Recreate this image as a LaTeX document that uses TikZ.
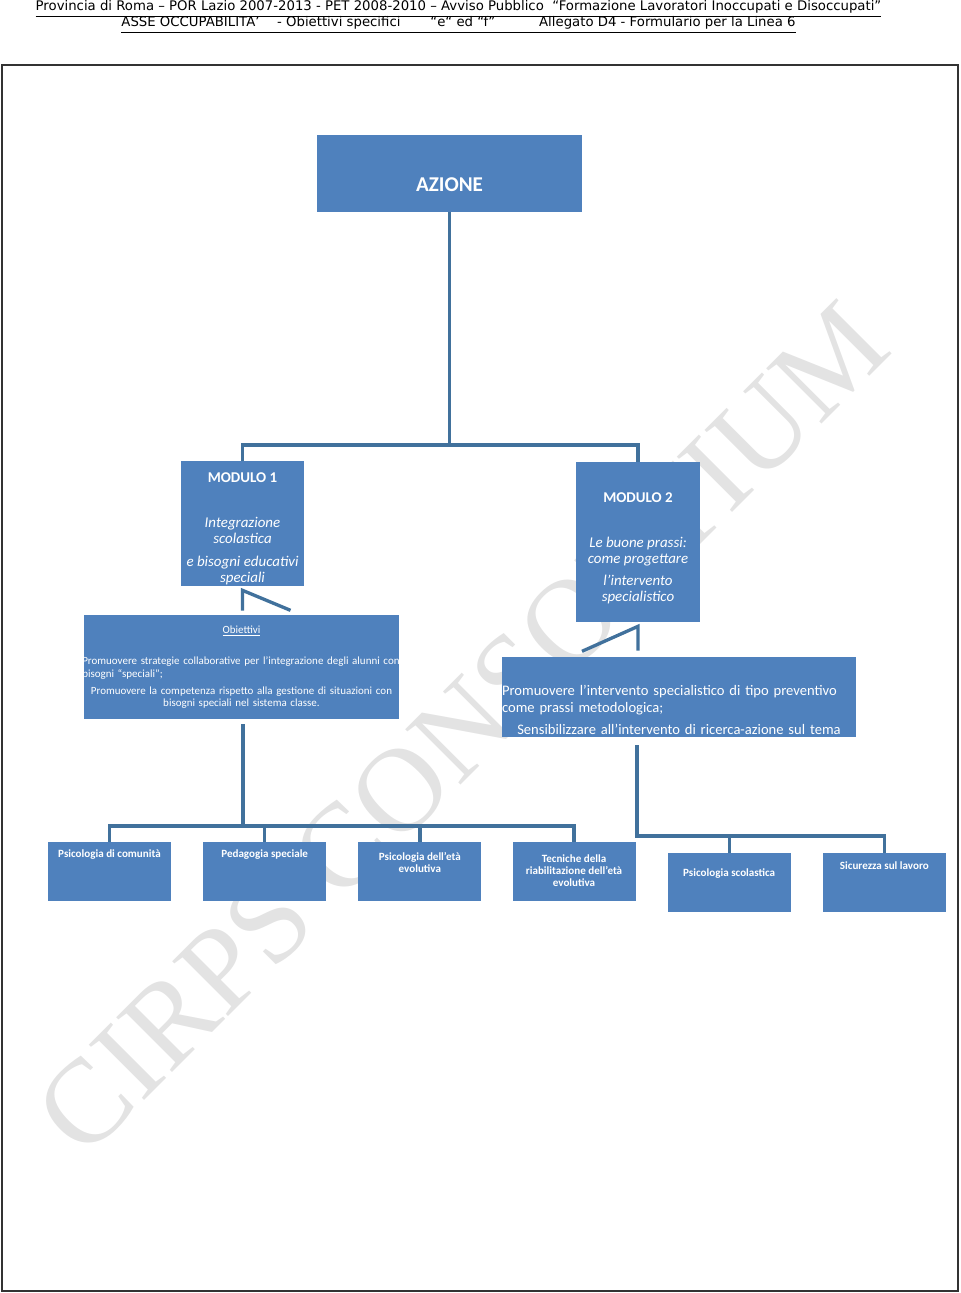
\documentclass[tikz,border=0pt]{standalone}
\usepackage{fontspec}
\setmainfont{Carlito}
\newfontfamily\headfont{DejaVu Sans}
\newfontfamily\markfont{Liberation Serif}
\usetikzlibrary{positioning, calc}
\definecolor{boxblue}{RGB}{79,129,189}
\definecolor{linkblue}{RGB}{65,113,156}
\tikzset{
  box/.style={fill=boxblue, text=white, inner sep=0pt},
  cell/.style={box, minimum width=2.46cm, minimum height=1.18cm},
  link/.style={draw=linkblue, line width=1.9pt},
  modtext/.style={text=white, align=center, inner sep=0pt, font=\fontsize{8.5}{9.07}\selectfont},
  celltext/.style={text=white, align=center, inner sep=0pt, font=\bfseries\fontsize{6.3}{6.9}\selectfont},
  head/.style={inner sep=0pt, anchor=base, font=\headfont\fontsize{7.55}{8}\selectfont},
}

\begin{document}
\begin{tikzpicture}[x=0.02cm, y=-0.02cm]
\useasboundingbox (0,0) rectangle (960,1293);

% Watermark
\node[rotate=45, text=gray!22, font=\markfont\fontsize{68}{68}\selectfont] (mark) at (462,728) {CIRPS CONSORTIUM};

% Header
\node[head] (h1) at (458.5,11) {\underline{Provincia di Roma – POR Lazio 2007-2013 - PET 2008-2010 – Avviso Pubblico\ \ “Formazione Lavoratori Inoccupati e Disoccupati”}};
\node[head] (h2) at (458.5,27) {\underline{ASSE OCCUPABILITA’\hspace{10pt}- Obiettivi specifici\hspace{17pt}“e“ ed “f”\hspace{25pt}Allegato D4 - Formulario per la Linea 6}};
\draw[gray!40!black, line width=1.1pt] (2,65) rectangle (958,1291);

% Top level
\node[box, minimum width=5.30cm, minimum height=1.54cm] (azione) at (449.5,173.5) {};
\node[text=white, inner sep=0pt, font=\bfseries\fontsize{12}{14}\selectfont] (azionet) at (449.5,185) {AZIONE};

% Modules
\node[box, minimum width=2.46cm, minimum height=2.50cm] (m1) at (242.5,523.5) {};
\node[modtext] (m1t) at (242.5,529) {\textbf{MODULO 1}\\[16.4pt] \textit{Integrazione}\\ \textit{scolastica}\\[4pt] \textit{e bisogni educativi}\\ \textit{speciali}};
\node[box, minimum width=2.48cm, minimum height=3.20cm] (m2) at (638,542) {};
\node[modtext] (m2t) at (638,548) {\textbf{MODULO 2}\\[16.4pt] \textit{Le buone prassi:}\\ \textit{come progettare}\\[3.5pt] \textit{l’intervento}\\ \textit{specialistico}};

% Objectives
\node[box, minimum height=2.08cm, text width=6.30cm, align=center, font=\fontsize{6.25}{7.1}\selectfont] (obj1) at (241.5,667) {\underline{Obiettivi}\\[11pt] \makebox[6.3cm][l]{\hspace{-1pt}Promuovere strategie collaborative per l’integrazione degli alunni con}\\ \makebox[6.3cm][l]{\hspace{-1pt}bisogni “speciali”;}\\[2.5pt] Promuovere la competenza rispetto alla gestione di situazioni con\\ bisogni speciali nel sistema classe.};
\node[box, minimum width=7.08cm, minimum height=1.60cm] (obj2) at (679,697) {};
\node[text=white, text width=7.08cm, align=center, inner sep=0pt, font=\fontsize{8.3}{9.6}\selectfont] (obj2t) at (679,709.5) {\makebox[7.08cm][l]{Promuovere l’intervento specialistico di tipo preventivo}\\ \makebox[7.08cm][l]{come prassi metodologica;}\\[2.9pt] Sensibilizzare all’intervento di ricerca-azione sul tema};

% Subjects
\node[cell] (c1) at (109.5,871.5) {};
\node[cell, right=0.63cm of c1] (c2) {};
\node[cell, right=0.63cm of c2] (c3) {};
\node[cell, right=0.61cm of c3] (c4) {};
\node[cell, right=0.63cm of c4, yshift=-0.22cm] (c5) {};
\node[cell, right=0.63cm of c5] (c6) {};
\node[celltext] (t1) at ($(c1.north)+(0,13)$) {Psicologia di comunità};
\node[celltext] (t2) at ($(c2.north)+(0,13)$) {Pedagogia speciale};
\node[celltext] (t3) at ($(c3.north)+(0,21)$) {Psicologia dell’età\\ evolutiva};
\node[celltext] (t4) at ($(c4.north)+(0,29)$) {Tecniche della\\ riabilitazione dell’età\\ evolutiva};
\node[celltext] (t5) at ($(c5.north)+(0,21)$) {Psicologia scolastica};
\node[celltext] (t6) at ($(c6.north)+(0,13)$) {Sicurezza sul lavoro};

% Connectors
\coordinate (j0) at (449,445);
\coordinate (j1) at (243,826);
\coordinate (j2) at (637,836);
\draw[link] (azione.south) -- (azione.south |- j0);
\draw[link] (m1.north) |- (j0) -| (m2.north);
\draw[link] ($(obj1.north -| m1.south)+(0,-4)$) -- ($(m1.south)+(0,4)$) -- ($(m1.south)+(48,24)$);
\draw[link] ($(obj2.north -| m2.south)+(0,-6)$) -- ($(m2.south)+(0,4)$) -- ($(m2.south)+(-56,29)$);
\draw[link] ($(obj1.south -| j1)+(0,5)$) -- (j1);
\draw[link] (c1.north) |- (j1) -| (c4.north);
\draw[link] (c2.north) -- (c2.north |- j1);
\draw[link] (c3.north) -- (c3.north |- j1);
\draw[link] ($(obj2.south -| j2)+(0,8)$) -- (j2) -| (c6.north);
\draw[link] (c5.north) -- (c5.north |- j2);
\end{tikzpicture}
\end{document}
